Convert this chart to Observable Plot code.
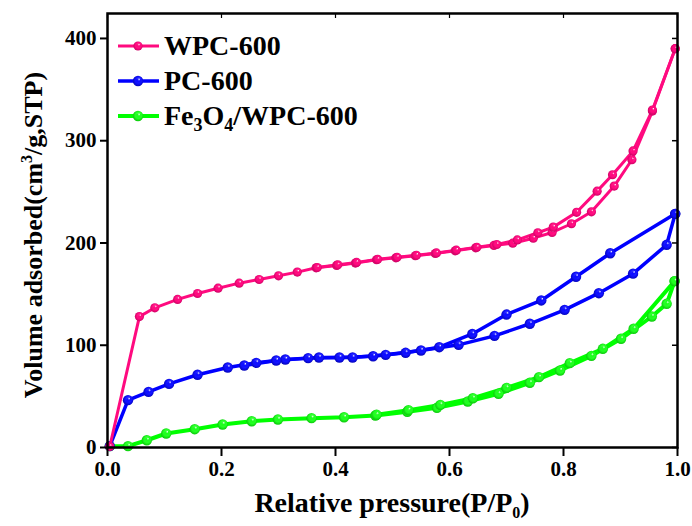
<!DOCTYPE html>
<html><head><meta charset="utf-8">
<script src="https://cdn.jsdelivr.net/npm/d3@7"></script>
<script src="https://cdn.jsdelivr.net/npm/@observablehq/plot@0.6"></script>
<style>
body{margin:0;background:#fff;}
#wrap{position:relative;width:692px;height:526px;}
</style></head><body><div id="wrap"></div>
<script>
// ---- data ----
const wpcAdsX = [0.004,0.056,0.083,0.123,0.158,0.194,0.231,0.266,0.300,0.333,0.366,0.402,0.435,0.472,0.506,0.540,0.575,0.610,0.646,0.678,0.711,0.747,0.780,0.814,0.849,0.889,0.920,0.956,0.996];
const wpcAdsY = [1,128,136.6,144.8,150.6,155.8,160.7,164.3,167.9,171.5,175.7,178,180.3,183.6,185.5,187.5,189.7,192.3,195.3,197.6,199.8,204.7,210.3,218.8,230.5,255.6,281.4,329,390];
const wpcDesX = [0.996,0.956,0.922,0.886,0.859,0.823,0.782,0.755,0.719,0.683,0.648,0.612,0.577,0.542,0.508,0.474,0.437,0.404,0.368];
const wpcDesY = [390,330,290,266.7,250.7,230,215.5,210,203,198.5,195.8,193,190.3,188,186,184,181,178.6,176];

const pcAdsX = [0.004,0.036,0.072,0.108,0.158,0.211,0.261,0.312,0.371,0.430,0.488,0.550,0.616,0.679,0.741,0.802,0.862,0.922,0.981,0.996];
const pcAdsY = [1.3,46.3,54.4,62.2,71.1,78.2,82.8,86.1,88,88,90.6,94.9,100.4,109.2,121,134.6,150.9,170,198.2,228.5];
const pcDesX = [0.996,0.882,0.822,0.761,0.700,0.640,0.582,0.523,0.466,0.407,0.352,0.296,0.240];
const pcDesY = [228.5,190,167,143.8,130,111,98.1,92.6,89.2,88,87.4,85.1,80.2];

const feAdsX = [0.004,0.036,0.069,0.103,0.153,0.202,0.253,0.299,0.358,0.415,0.470,0.526,0.578,0.632,0.686,0.741,0.794,0.849,0.901,0.955,0.981,0.995];
const feAdsY = [1.3,1.3,7.1,13.7,17.9,22.5,25.7,27.4,28.7,29.6,31.3,35,38.8,45,52.5,63.3,75.3,89.6,106.3,128.1,140.5,162.7];
const feDesX = [0.995,0.923,0.869,0.811,0.757,0.700,0.641,0.584,0.528,0.472];
const feDesY = [162.7,116.1,96.5,82.5,68.8,58.3,48.2,41.7,36.5,32];

const seriesNames = ["WPC-600","PC-600","Fe3O4/WPC-600"];
const seriesColors = ["#ff0a7f","#0000ff","#00ff00"];
const xTicks = [0,0.2,0.4,0.6,0.8,1.0];
const yTicks = [0,100,200,300,400];

const rows = (xs, ys) => xs.map((x, i) => ({x, y: ys[i]}));
const series = [
  {branches:[rows(wpcAdsX,wpcAdsY), rows(wpcDesX,wpcDesY)], color:seriesColors[0], grad:"gPink", sw:3, r:4.6},
  {branches:[rows(pcAdsX,pcAdsY), rows(pcDesX,pcDesY)], color:seriesColors[1], grad:"gBlue", sw:3.5, r:5.2},
  {branches:[rows(feAdsX,feAdsY), rows(feDesX,feDesY)], color:seriesColors[2], grad:"gGreen", sw:4, r:5.2}
];

const FONT = "Liberation Serif, Times New Roman, serif";
const marks = [];
for (const s of [series[2], series[1], series[0]]) {
  for (const b of s.branches) marks.push(Plot.line(b, {x:"x", y:"y", stroke:s.color, strokeWidth:s.sw}));
  for (const b of s.branches) marks.push(Plot.dot(b, {x:"x", y:"y", r:s.r, fill:`url(#${s.grad})`, stroke:"none"}));
}

const svg = Plot.plot({
  width: 692, height: 526,
  marginLeft: 107, marginRight: 15, marginTop: 13, marginBottom: 79,
  style: {fontFamily: FONT, fontWeight: "bold", color: "#000", background: "#fff", overflow: "visible"},
  x: {domain: [0, 1]},
  y: {domain: [0, 424.4]},
  marks: [
    ...marks,
    Plot.axisX({ticks: xTicks, tickFormat: d3.format(".1f"), tickSize: 9, tickPadding: 5, fontSize: 21, strokeWidth: 2, label: null}),
    Plot.axisX({anchor: "top", ticks: xTicks, tickSize: -4, tickFormat: () => "", strokeWidth: 1.2, label: null}),
    Plot.axisY({ticks: yTicks, tickSize: 7, tickPadding: 4, fontSize: 21, strokeWidth: 2, label: null}),
    Plot.axisY({anchor: "right", ticks: yTicks, tickSize: -6, tickFormat: () => "", strokeWidth: 1.5, label: null}),
    Plot.frame({stroke: "#000", strokeWidth: 2.5})
  ]
});

const ns = "http://www.w3.org/2000/svg";
const defs = document.createElementNS(ns, "defs");
const gradDefs = [["gPink","#ff0a7f","#b8005a"],["gBlue","#1010ff","#0000a0"],["gGreen","#22ff22","#00b000"]];
defs.innerHTML = gradDefs.map(([id,c,d]) =>
  `<radialGradient id="${id}" cx="0.5" cy="0.5" fx="0.62" fy="0.32" r="0.6">
     <stop offset="0" stop-color="#ffffff"/>
     <stop offset="0.22" stop-color="${c}" stop-opacity="0.85"/>
     <stop offset="0.55" stop-color="${c}"/>
     <stop offset="1" stop-color="${d}"/>
   </radialGradient>`).join("");
svg.insertBefore(defs, svg.firstChild);

function addText(html, attrs) {
  const t = document.createElementNS(ns, "text");
  t.setAttribute("text-anchor", "start");
  for (const k in attrs) t.setAttribute(k, attrs[k]);
  t.style.fontFamily = FONT;
  t.style.fontWeight = "bold";
  t.setAttribute("fill", "#000");
  t.innerHTML = html;
  svg.appendChild(t);
  return t;
}
// axis titles
addText(`Relative pressure(P/P<tspan font-size="16" dy="6">0</tspan><tspan dy="-6">)</tspan>`,
  {x: 392, y: 512, "text-anchor": "middle", "font-size": 28});
addText(`Volume adsorbed(cm<tspan font-size="16" dy="-10">3</tspan><tspan dy="10">/g,STP)</tspan>`,
  {transform: "translate(42,235) rotate(-90)", "text-anchor": "middle", "font-size": 26});

// legend
const legendLabels = [
  `WPC-600`,
  `PC-600`,
  `Fe<tspan font-size="18" dy="6">3</tspan><tspan dy="-6">O</tspan><tspan font-size="18" dy="6">4</tspan><tspan dy="-6">/WPC-600</tspan>`
];
const legRowY = [46, 81, 116];
legendLabels.forEach((lab, i) => {
  const s = series[i];
  const g = document.createElementNS(ns, "g");
  g.innerHTML = `<line x1="118" x2="159" y1="${legRowY[i]}" y2="${legRowY[i]}" stroke="${s.color}" stroke-width="${s.sw}"/>
    <circle cx="138" cy="${legRowY[i]}" r="${s.r}" fill="url(#${s.grad})"/>`;
  svg.appendChild(g);
  addText(lab, {x: 164, y: legRowY[i] + 9, "font-size": 28});
});

document.getElementById("wrap").appendChild(svg);
</script>
</body></html>
